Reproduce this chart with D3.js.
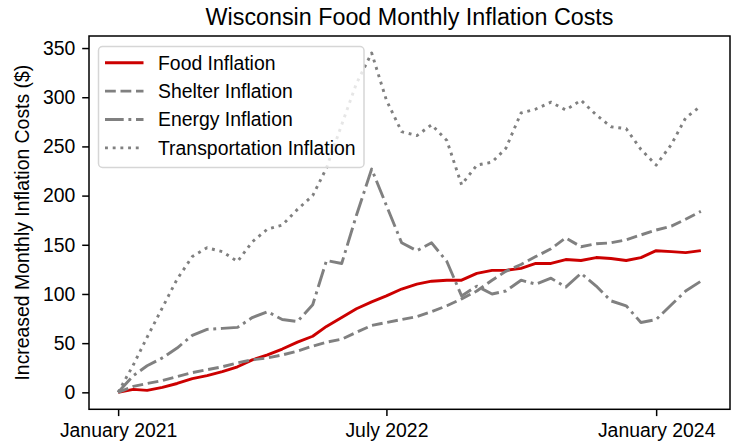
<!DOCTYPE html>
<html>
<head>
<meta charset="utf-8">
<script src="https://cdn.jsdelivr.net/npm/d3@7"></script>
<style>
  html, body { margin: 0; padding: 0; background: #fff; }
  svg { display: block; font-family: "Liberation Sans", Arial, sans-serif; }
</style>
</head>
<body>
<svg id="chart" width="731" height="446"></svg>
<script>
// ---- data ----
const months = ["2021-01","2021-02","2021-03","2021-04","2021-05","2021-06","2021-07","2021-08","2021-09","2021-10","2021-11","2021-12",
                "2022-01","2022-02","2022-03","2022-04","2022-05","2022-06","2022-07","2022-08","2022-09","2022-10","2022-11","2022-12",
                "2023-01","2023-02","2023-03","2023-04","2023-05","2023-06","2023-07","2023-08","2023-09","2023-10","2023-11","2023-12",
                "2024-01","2024-02","2024-03","2024-04"];
const food      = [0,3,2,5,9,14,17,21,26,33,38,44,51,57,67,76,85,92,98,105,110,113,114,114,121,124,124,126,131,131,135,134,137,136,134,137,144,143,142,144];
const shelter   = [0,6,9,12,16,20,23,26,30,33,35,38,42,47,51,54,61,68,71,74,77,82,88,95,103,114,123,130,138,146,157,148,151,152,155,160,165,169,176,184];
const energy    = [0,17,27,35,45,58,64,65,66,76,82,74,72,89,134,131,180,227,190,152,144,152,133,98,108,100,103,114,110,116,107,121,108,93,88,71,74,89,103,113];
const transport = [0,28,56,86,115,138,147,143,133,153,166,170,186,200,228,272,314,345,297,265,261,272,256,211,231,234,248,284,288,295,287,297,282,270,268,247,231,252,279,291];
const seriesNames = ["Food Inflation","Shelter Inflation","Energy Inflation","Transportation Inflation"];
const xTickLabels = ["January 2021","July 2022","January 2024"];
const xTickDates  = ["2021-01","2022-07","2024-01"];
const yTicks = [0,50,100,150,200,250,300,350];
const title = "Wisconsin Food Monthly Inflation Costs";
const yLabel = "Increased Monthly Inflation Costs ($)";

// ---- layout ----
const L = 89, R = 730, T = 36, B = 409.3;
const parse = d3.timeParse("%Y-%m");
const dates = months.map(parse);

const svg = d3.select("#chart");

const t0 = +dates[0], t1 = +dates[dates.length - 1];
const tpad = (t1 - t0) * 0.05;
const x = d3.scaleTime().domain([new Date(t0 - tpad), new Date(t1 + tpad)]).range([L, R]);

const all = food.concat(shelter, energy, transport);
const ymin = d3.min(all), ymax = d3.max(all);
const ypad = (ymax - ymin) * 0.05;
const y = d3.scaleLinear().domain([ymin - ypad, ymax + ypad]).range([B, T]);

const styles = [
  { color: "#cc0000", dash: null },
  { color: "#808080", dash: "10.8,4.7" },
  { color: "#808080", dash: "18.7,4.7,2.9,4.7" },
  { color: "#808080", dash: "2.9,4.8" }
];
const seriesData = [food, shelter, energy, transport];

const line = d3.line().x((d, i) => x(dates[i])).y(d => y(d));

const g = svg.append("g");
seriesData.forEach((s, k) => {
  g.append("path")
    .datum(s)
    .attr("d", line)
    .attr("fill", "none")
    .attr("stroke", styles[k].color)
    .attr("stroke-width", 2.9)
    .attr("stroke-linejoin", "round")
    .attr("stroke-dasharray", styles[k].dash);
});

// axes
const xAxis = d3.axisBottom(x)
  .tickValues(xTickDates.map(parse))
  .tickFormat((d, i) => xTickLabels[i])
  .tickSize(6.8).tickPadding(6.8);
const yAxis = d3.axisLeft(y)
  .tickValues(yTicks)
  .tickFormat(d3.format("d"))
  .tickSize(6.8).tickPadding(6.8);

const gx = svg.append("g").attr("transform", `translate(0,${B})`).call(xAxis);
const gy = svg.append("g").attr("transform", `translate(${L},0)`).call(yAxis);
[gx, gy].forEach(a => {
  a.select(".domain").remove();
  a.selectAll(".tick line").attr("stroke", "#000").attr("stroke-width", 1.5);
  a.selectAll(".tick text").attr("fill", "#000").style("font-size", "19.4px").style("font-family", "'Liberation Sans', Arial, sans-serif");
});

// spines
svg.append("rect")
  .attr("x", L).attr("y", T).attr("width", R - L).attr("height", B - T)
  .attr("fill", "none").attr("stroke", "#000").attr("stroke-width", 1.5);

// title
svg.append("text")
  .attr("x", (L + R) / 2).attr("y", 25)
  .attr("text-anchor", "middle")
  .style("font-size", "23.3px")
  .attr("fill", "#000")
  .text(title);

// y label
svg.append("text")
  .attr("transform", `translate(22,${(T + B) / 2}) rotate(-90)`)
  .attr("text-anchor", "middle")
  .attr("dy", "0.36em")
  .style("font-size", "19.4px")
  .attr("fill", "#000")
  .text(yLabel);

// legend
const lg = svg.append("g");
lg.append("rect")
  .attr("x", 98.5).attr("y", 46.5).attr("width", 265.5).attr("height", 121)
  .attr("rx", 4).attr("ry", 4)
  .attr("fill", "#fff").attr("fill-opacity", 0.8)
  .attr("stroke", "#d6d6d6").attr("stroke-width", 1.5);
seriesNames.forEach((name, k) => {
  const cy = 62.7 + 28.4 * k;
  lg.append("line")
    .attr("x1", 105).attr("x2", 143.5).attr("y1", cy).attr("y2", cy)
    .attr("stroke", styles[k].color).attr("stroke-width", 2.9)
    .attr("stroke-dasharray", styles[k].dash);
  lg.append("text")
    .attr("x", 158).attr("y", cy).attr("dy", "0.36em")
    .style("font-size", "19.4px").attr("fill", "#000")
    .text(name);
});
</script>
</body>
</html>
